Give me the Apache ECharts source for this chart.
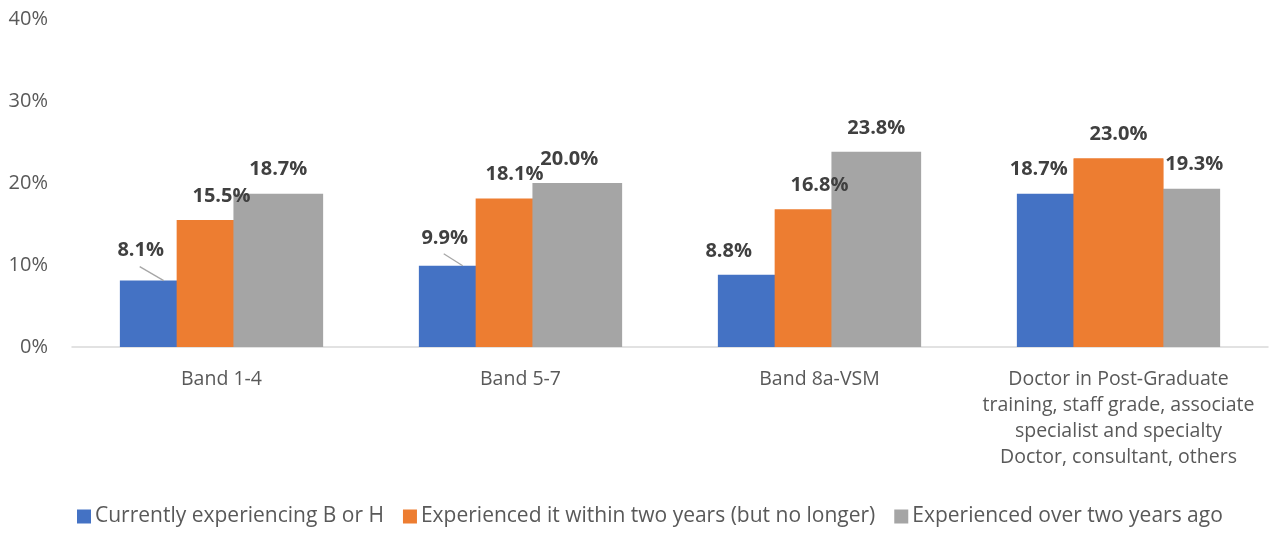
<!DOCTYPE html>
<html><head><meta charset="utf-8">
<script src="https://cdn.jsdelivr.net/npm/echarts@6/dist/echarts.min.js"></script>
<style>html,body{margin:0;padding:0;background:#fff}#c{width:1274px;height:534px}</style>
</head><body><div id="c"></div>
<script>
var categories = ['Band 1-4', 'Band 5-7', 'Band 8a-VSM',
  'Doctor in Post-Graduate\ntraining, staff grade, associate\nspecialist and specialty\nDoctor, consultant, others'];
var seriesNames = ['Currently experiencing B or H', 'Experienced it within two years (but no longer)', 'Experienced over two years ago'];
var currentValues = [8.1, 9.9, 8.8, 18.7];
var withinTwoYears = [15.5, 18.1, 16.8, 23.0];
var overTwoYears = [18.7, 20.0, 23.8, 19.3];
var yTicks = [0, 10, 20, 30, 40];

var colors = ['#4472C4', '#ED7D31', '#A5A5A5'];
var FONT = 'Open Sans';
var LABEL_DIST = 14;
// label nudges [series][category] in px
var labelShift = [
  [[-24, -6], [-19, -4], [-34, 0], [-23, 0]],
  [[0, 0], [-6, 0], [0, 0], [0, 0]],
  [[0, 0], [-8, 0], [0, 0], [19, 0]]
];
var leader = [[true, true, false, false], [false, false, false, false], [false, false, false, false]];

function mkSeries(idx, values) {
  return {
    name: seriesNames[idx], type: 'bar', data: values, xAxisIndex: 0,
    barWidth: '30%', barGap: '-36.7%',
    itemStyle: { color: colors[idx] },
    label: { show: true, position: 'top', distance: LABEL_DIST, fontFamily: FONT, fontSize: 20, fontWeight: 'bold', color: '#404040',
      formatter: function (p) { return p.value.toFixed(1) + '%'; } },
    labelLayout: function (p) {
      var s = labelShift[idx][p.dataIndex];
      return { dx: s[0], dy: s[1] };
    },
    z: 2
  };
}
var series = [mkSeries(0, currentValues), mkSeries(1, withinTwoYears), mkSeries(2, overTwoYears)];
// overlay so that the orange bar of the last group sits above the grey one (as in the source)
var emptyArr = categories.map(function () { return '-'; });
[0, 1, 2].forEach(function (idx) {
  var d = idx === 1 ? withinTwoYears.map(function (v, i) { return i === 3 ? v : '-'; }) : emptyArr;
  series.push({ name: 'overlay' + idx, type: 'bar', data: d, xAxisIndex: 1, barWidth: '30%', barGap: '-36.7%',
    itemStyle: { color: colors[idx] }, silent: true, z: 5 });
});

var chart = echarts.init(document.getElementById('c'));
chart.setOption({
  animation: false,
  textStyle: { fontFamily: FONT },
  grid: { left: 72, right: 6, top: 19, bottom: 187, containLabel: false },
  legend: {
    data: seriesNames, bottom: 2, left: 72, icon: 'rect', itemWidth: 14, itemHeight: 14, itemGap: 19,
    textStyle: { fontFamily: FONT, fontSize: 21, color: '#595959', padding: [0, 0, 0, -1] }
  },
  xAxis: [{
    type: 'category', data: categories,
    axisLine: { lineStyle: { color: '#D9D9D9', width: 1.5 } },
    axisTick: { show: false },
    axisLabel: { fontFamily: FONT, fontSize: 19.5, color: '#595959', margin: 19, lineHeight: 26, interval: 0 }
  }, {
    type: 'category', data: categories, show: false
  }],
  yAxis: {
    type: 'value', min: yTicks[0], max: yTicks[yTicks.length - 1], interval: 10,
    axisLine: { show: false }, axisTick: { show: false }, splitLine: { show: false },
    axisLabel: { fontFamily: FONT, fontSize: 20, color: '#595959', margin: 24, formatter: '{value}%' }
  },
  series: series
});

// leader lines from moved labels to their bars, using the library's own bar layout
var graphics = [];
[0, 1, 2].forEach(function (si) {
  var data = chart.getModel().getSeriesByIndex(si).getData();
  leader[si].forEach(function (on, i) {
    if (!on) return;
    var lay = data.getItemLayout(i);
    var top = Math.min(lay.y, lay.y + lay.height);
    var cx = lay.x + lay.width / 2;
    var s = labelShift[si][i];
    graphics.push({
      type: 'line', silent: true, z: 10,
      shape: { x1: cx + s[0] - 1, y1: top - LABEL_DIST + s[1] + 6, x2: cx - 1, y2: top },
      style: { stroke: '#A6A6A6', lineWidth: 1.3 }
    });
  });
});
chart.setOption({ graphic: graphics });
</script></body></html>
